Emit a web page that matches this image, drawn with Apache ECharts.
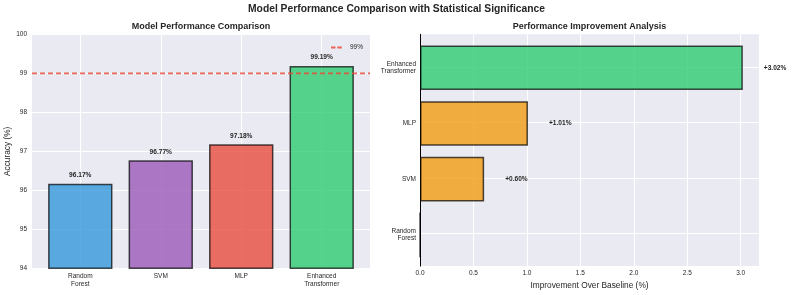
<!DOCTYPE html>
<html><head><meta charset="utf-8">
<script src="https://cdn.jsdelivr.net/npm/echarts@6/dist/echarts.min.js"></script>
<style>html,body{margin:0;padding:0;background:#fff}#c{width:793px;height:295px}</style>
</head><body><div id="c"></div>
<script>
const models = ['Random\nForest', 'SVM', 'MLP', 'Enhanced\nTransformer'];
const accuracy = [96.17, 96.77, 97.18, 99.19];
const improvement = [0, 0.60, 1.01, 3.02];
const threshold = 99;
const accRange = [94, 100];
const impRange = [0, 3.171];
const barColors = ['rgba(52,152,219,0.8)', 'rgba(155,89,182,0.8)', 'rgba(231,76,60,0.8)', 'rgba(46,204,113,0.8)'];
const impColors = ['rgba(243,156,18,0.8)', 'rgba(243,156,18,0.8)', 'rgba(243,156,18,0.8)', 'rgba(46,204,113,0.8)'];

const FONT = '"Liberation Sans", Arial, sans-serif';
const TXT = '#262626';
const BG = '#EAEAF2';
const GTOP = 34.3, GH = 234;
const unit = GH / 4.2;
const idx = models.map((m, i) => i);

const chart = echarts.init(document.getElementById('c'));
chart.setOption({
  animation: false,
  textStyle: { fontFamily: FONT, color: TXT },
  graphic: [
    { type: 'text', x: 396.5, y: 9.5, style: { text: 'Model Performance Comparison with Statistical Significance', textAlign: 'center', textVerticalAlign: 'middle', font: 'bold 10.3px ' + FONT, fill: TXT } },
    { type: 'text', x: 201, y: 27, style: { text: 'Model Performance Comparison', textAlign: 'center', textVerticalAlign: 'middle', font: 'bold 9px ' + FONT, fill: TXT } },
    { type: 'text', x: 589.5, y: 27, style: { text: 'Performance Improvement Analysis', textAlign: 'center', textVerticalAlign: 'middle', font: 'bold 9px ' + FONT, fill: TXT } }
  ],
  legend: {
    data: [{ name: '99%', icon: 'path://M0,0H5V2H0ZM7,0H12V2H7Z' }],
    left: 326, top: 39, itemWidth: 13, itemHeight: 1.8, itemGap: 4,
    textStyle: { fontSize: 6.5, color: TXT, fontFamily: FONT, padding: [0, 0, 0, 2] }
  },
  grid: [
    { left: 32, top: GTOP, width: 338, height: GH, show: true, backgroundColor: BG, borderWidth: 0 },
    { left: 420, top: GTOP, width: 339, height: GH, show: true, backgroundColor: BG, borderWidth: 0 },
    { left: 420, top: GTOP + 0.1 * unit, width: 339, height: 4 * unit, show: false }
  ],
  xAxis: [
    { gridIndex: 0, type: 'value', min: -0.6, max: 3.6,
      axisLine: { show: false },
      axisTick: { show: false, customValues: idx },
      axisLabel: { customValues: idx, formatter: v => models[Math.round(v)], fontSize: 6.5, color: TXT, margin: 4, lineHeight: 7.7 },
      splitLine: { show: true, lineStyle: { color: '#fff', width: 1 } } },
    { gridIndex: 1, type: 'value', min: impRange[0], max: impRange[1], interval: 0.5,
      axisLine: { show: false }, axisTick: { show: false },
      axisLabel: { formatter: v => v.toFixed(1), fontSize: 6.5, color: TXT, margin: 4, showMaxLabel: false },
      splitLine: { show: true, lineStyle: { color: '#fff', width: 1 } },
      name: 'Improvement Over Baseline (%)', nameLocation: 'middle', nameGap: 13,
      nameTextStyle: { fontSize: 8.3, color: TXT } },
    { gridIndex: 2, type: 'value', min: impRange[0], max: impRange[1], show: false }
  ],
  yAxis: [
    { gridIndex: 0, type: 'value', min: accRange[0], max: accRange[1], interval: 1,
      axisLine: { show: false }, axisTick: { show: false },
      axisLabel: { fontSize: 6.5, color: TXT, margin: 5 },
      splitLine: { show: true, lineStyle: { color: '#fff', width: 1 } },
      name: 'Accuracy (%)', nameLocation: 'middle', nameGap: 20,
      nameTextStyle: { fontSize: 8.3, color: TXT } },
    { gridIndex: 1, type: 'value', min: -0.6, max: 3.6,
      axisLine: { show: true, onZero: false, lineStyle: { color: '#000', width: 1 } },
      axisTick: { show: false, customValues: idx },
      axisLabel: { show: false },
      splitLine: { show: true, lineStyle: { color: '#fff', width: 1 } } },
    { gridIndex: 2, type: 'category', data: models,
      axisLine: { show: false }, axisTick: { show: false },
      axisLabel: { fontSize: 6.5, color: TXT, margin: 4, lineHeight: 7.5 },
      splitLine: { show: false } }
  ],
  series: [
    { type: 'bar', xAxisIndex: 0, yAxisIndex: 0, barWidth: 0.8 * 338 / 4.2,
      data: accuracy.map((v, i) => ({ value: [i, v], itemStyle: { color: barColors[i] } })),
      itemStyle: { borderColor: 'rgba(0,0,0,0.7)', borderWidth: 1.5 },
      label: { show: true, position: 'top', distance: 5, formatter: p => p.value[1].toFixed(2) + '%', fontSize: 6.6, fontWeight: 'bold', color: TXT, fontFamily: FONT },
      z: 2 },
    { type: 'line', name: '99%', xAxisIndex: 0, yAxisIndex: 0, symbol: 'none',
      data: [[-0.6, threshold], [3.6, threshold]],
      lineStyle: { color: 'rgba(231,76,60,0.85)', width: 1.8, type: [5, 3] },
      itemStyle: { color: 'rgba(231,76,60,0.85)' },
      z: 5 },
    { type: 'bar', xAxisIndex: 2, yAxisIndex: 2, barCategoryGap: '20%',
      data: improvement.map((v, i) => ({ value: v, itemStyle: { color: impColors[i] } })),
      itemStyle: { borderColor: 'rgba(0,0,0,0.7)', borderWidth: 1.5 },
      label: { show: true, position: 'right', distance: 21, formatter: p => p.value > 0 ? '+' + p.value.toFixed(2) + '%' : '', fontSize: 6.6, fontWeight: 'bold', color: TXT, fontFamily: FONT },
      z: 2 }
  ]
});
</script></body></html>
